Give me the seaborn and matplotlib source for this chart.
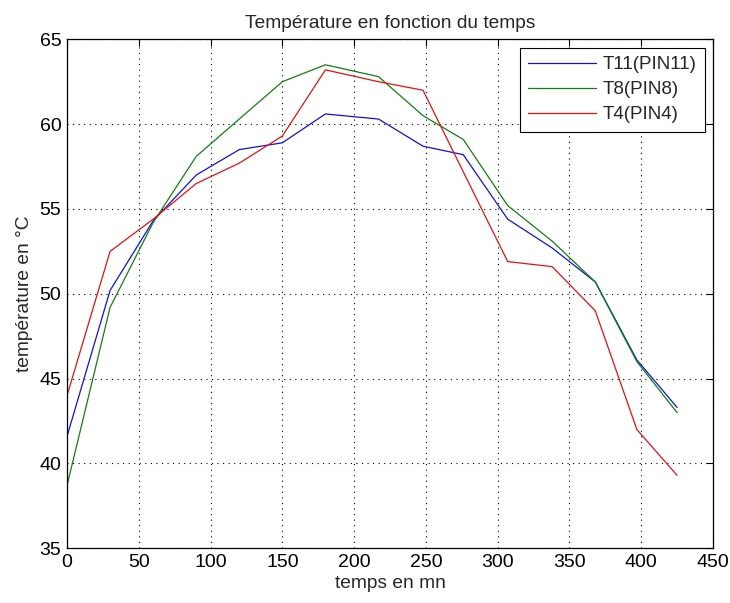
import matplotlib
matplotlib.use("Agg")
import matplotlib.pyplot as plt
import seaborn as sns
import pandas as pd

# temps de mesure (mn)
temps = [0, 30, 60, 90, 120, 150, 180, 217, 248, 276, 307, 338, 368, 397, 425]

t11 = [41.6, 50.2, 54.3, 57.0, 58.5, 58.9, 60.6, 60.3, 58.7, 58.2, 54.4, 52.7, 50.7, 46.1, 43.3]
t8 = [38.7, 49.2, 54.2, 58.1, 60.3, 62.5, 63.5, 62.8, 60.5, 59.1, 55.2, 53.1, 50.7, 46.0, 43.0]
t4 = [44.0, 52.5, 54.4, 56.5, 57.7, 59.3, 63.2, 62.5, 62.0, 57.2, 51.9, 51.6, 49.0, 42.0, 39.3]

labels = ["T11(PIN11)", "T8(PIN8)", "T4(PIN4)"]
couleurs = ["#1010e0", "#108010", "#e81010"]

df = pd.concat([
    pd.DataFrame({"temps": temps, "temp": vals, "capteur": lab})
    for vals, lab in zip([t11, t8, t4], labels)
])

sns.set_style("white")
plt.rcParams["font.family"] = ["Liberation Sans", "DejaVu Sans"]

fig = plt.figure(figsize=(7.3, 6.03), dpi=100)
ax = fig.add_axes([0.0918, 0.0907, 0.8849, 0.8441])

sns.lineplot(data=df, x="temps", y="temp", hue="capteur", palette=couleurs,
             linewidth=0.9, ax=ax, sort=False)

ax.set_xlim(0, 450)
ax.set_ylim(35, 65)
ax.set_xticks(range(0, 451, 50))
ax.set_yticks(range(35, 66, 5))
ax.grid(True, color="black", linestyle=(0, (1, 4)), linewidth=0.8)
ax.tick_params(direction="in", top=True, right=True, length=5, width=0.8,
               labelsize=14, colors="black", pad=4)
for s in ax.spines.values():
    s.set_color("black")
    s.set_linewidth(0.9)

ax.set_xlabel("temps en mn", fontsize=13.8, labelpad=3)
ax.set_ylabel("température en °C", fontsize=13.8, labelpad=5)
ax.set_title("Température en fonction du temps", fontsize=13.8, pad=8)

leg = ax.legend(loc="upper right", fontsize=13.5, frameon=True, fancybox=False,
                edgecolor="black", framealpha=1, handlelength=3.6,
                handletextpad=0.35, labelspacing=0.42, borderpad=0.45,
                borderaxespad=0.45, title=None)
leg.get_frame().set_linewidth(0.8)

fig.savefig("out.png", dpi=100)
